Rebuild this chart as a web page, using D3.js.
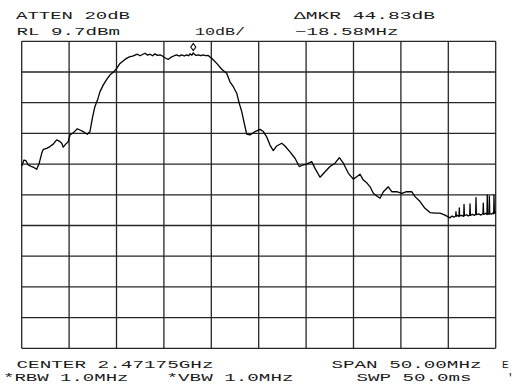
<!DOCTYPE html>
<html>
<head>
<meta charset="utf-8">
<script src="https://cdn.jsdelivr.net/npm/d3@7"></script>
<style>
  html, body { margin: 0; padding: 0; background: #fff; }
  svg { display: block; }
  text { font-family: "Liberation Mono", "DejaVu Sans Mono", monospace; font-size: 11px; fill: #1a1a1a; }
</style>
</head>
<body>
<svg id="chart" width="515" height="389"></svg>
<script>
// ---- Data ----
// Frequency offset from center (MHz), span 50 MHz
const freqOffset = [
  -25.00, -24.76, -24.55, -24.31, -23.95, -23.71, -23.42, -23.15, -22.89, -22.72,
  -22.37, -22.02, -21.67, -21.31, -21.04, -20.78, -20.62, -20.36, -20.09, -19.91,
  -19.56, -19.33, -19.14, -18.86, -18.51, -18.09, -17.80, -17.52, -17.28, -16.98,
  -16.74, -16.39, -16.03, -15.68, -15.34, -14.98, -14.63,
  -14.10, -13.85, -13.57, -13.30, -13.05, -12.80, -12.52, -12.25, -11.99, -11.72,
  -11.46, -11.20, -10.94, -10.68, -10.41, -10.15, -9.99, -9.75, -9.54, -9.35,
  -9.18, -8.90, -8.65, -8.40, -8.12, -7.85, -7.60, -7.40, -7.25, -7.05,
  -6.90, -6.65, -6.37, -6.10, -5.84, -5.60, -5.32, -5.15, -4.96,
  -4.43, -3.90, -3.38, -3.03, -2.68, -2.32, -2.05, -1.79, -1.52, -1.27,
  -0.92, -0.57, -0.39, 0.14, 0.49, 0.84, 1.19, 1.54, 1.90, 2.43,
  2.77, 3.30, 3.83, 4.28, 4.64, 5.06, 5.59, 5.94, 6.47, 7.00,
  7.52, 8.05, 8.51, 8.93, 9.46, 9.98, 10.34, 10.69, 11.04, 11.40,
  11.75, 12.09, 12.45, 12.80, 13.15, 13.67, 14.03, 14.56, 15.09, 15.61,
  16.14, 16.49, 17.02, 17.54, 18.07, 18.60, 19.12, 19.65, 20.18,
  20.40, 20.60, 20.78, 20.81, 20.85, 21.00, 21.13, 21.16, 21.20, 21.40,
  21.63, 21.66, 21.70, 21.95, 22.10, 22.26, 22.29, 22.33, 22.55, 22.75,
  22.89, 22.92, 22.96, 23.20, 23.45, 23.66, 23.69, 23.73, 23.95, 24.08,
  24.11, 24.15, 24.30, 24.33, 24.37, 24.55, 24.70, 24.79, 24.82, 24.86, 25.00
];
// Level (dBm)
const levelDbm = [
  -30.9, -29.0, -29.2, -30.6, -31.1, -31.4, -32.0, -30.0, -26.8, -25.5,
  -25.2, -24.6, -23.8, -22.4, -22.8, -23.5, -24.8, -23.8, -23.0, -20.8,
  -20.1, -19.4, -18.8, -19.2, -19.7, -20.6, -19.7, -14.9, -11.6, -9.2,
  -6.7, -4.5, -2.7, -1.2, -0.4, 0.9, 2.5,
  3.8, 4.3, 4.7, 4.9, 5.2, 5.5, 5.0, 5.4, 5.8, 5.2,
  5.5, 5.0, 5.6, 5.1, 5.3, 4.9, 4.5, 4.1, 3.8, 4.3,
  4.6, 5.0, 5.3, 4.9, 5.3, 4.9, 5.3, 5.0, 5.6, 5.2,
  5.9, 5.1, 5.3, 5.0, 5.3, 5.0, 5.1, 4.6, 4.2,
  2.5, 0.6, -0.7, -3.5, -5.1, -7.2, -10.5, -13.2, -17.0, -20.5,
  -20.8, -20.1, -19.7, -19.0, -19.7, -21.4, -24.1, -25.9, -24.4, -23.5,
  -24.4, -26.3, -28.4, -31.1, -30.6, -30.3, -29.5, -31.7, -34.6, -32.8,
  -31.1, -30.0, -28.2, -30.0, -33.3, -35.2, -34.4, -33.6, -35.5, -36.4,
  -37.7, -39.8, -40.7, -41.4, -39.3, -37.7, -39.3, -39.3, -39.8, -39.3,
  -39.3, -40.9, -42.5, -44.7, -46.1, -46.3, -46.3, -46.9, -47.8,
  -47.2, -47.6, -47.2, -45.8, -47.3, -47.0, -47.4, -44.6, -47.2, -47.0,
  -47.3, -43.4, -47.1, -46.8, -47.2, -46.9, -43.3, -47.0, -46.7, -47.0,
  -46.6, -41.2, -46.8, -46.5, -46.9, -46.4, -43.0, -46.7, -46.3, -46.7,
  -40.4, -46.5, -46.6, -40.7, -46.4, -46.6, -46.2, -46.5, -40.4, -46.3, -45.8
];
// Grid ticks
const freqGrid = [-25, -20, -15, -10, -5, 0, 5, 10, 15, 20, 25];
const levelGrid = [9.7, -0.3, -10.3, -20.3, -30.3, -40.3, -50.3, -60.3, -70.3, -80.3, -90.3];
// Marker
const markerFreq = -6.90;
const markerLevel = 5.9;
// Annotation texts
const topLeftLines = ["ATTEN 20dB", "RL 9.7dBm"];
const scaleLabel = "10dB/";
const markerLines = ["\u0394MKR 44.83dB", "\u221218.58MHz"];
const bottomLeftLines = ["CENTER 2.47175GHz", "*RBW 1.0MHz"];
const vbwLabel = "*VBW 1.0MHz";
const bottomRightLines = ["SPAN 50.00MHz", "SWP 50.0ms"];

// ---- Drawing ----
const svg = d3.select("#chart");
const x = d3.scaleLinear().domain([-25, 25]).range([21.7, 495.7]);
const y = d3.scaleLinear().domain([-90.3, 9.7]).range([348.3, 41.3]);

const grid = svg.append("g");
grid.selectAll("line.v").data(freqGrid).join("line")
  .attr("x1", d => x(d)).attr("x2", d => x(d))
  .attr("y1", y(9.7)).attr("y2", y(-90.3))
  .attr("stroke", "#262626").attr("stroke-width", 1.3);
grid.selectAll("line.h").data(levelGrid).join("line")
  .attr("x1", x(-25)).attr("x2", x(25))
  .attr("y1", d => y(d)).attr("y2", d => y(d))
  .attr("stroke", "#262626").attr("stroke-width", 1.3);

const pts = freqOffset.map((f, i) => [f, levelDbm[i]]);
const line = d3.line().x(d => x(d[0])).y(d => y(d[1]));
svg.append("path").datum(pts)
  .attr("d", line)
  .attr("fill", "none")
  .attr("stroke", "#000")
  .attr("stroke-width", 1.3)
  .attr("stroke-linejoin", "round");

// marker diamond
const mx = x(markerFreq), my = y(markerLevel) - 6;
svg.append("path")
  .attr("d", `M${mx},${my-3.5}L${mx+2.5},${my}L${mx},${my+3.5}L${mx-2.5},${my}Z`)
  .attr("fill", "none").attr("stroke", "#000").attr("stroke-width", 1.1);

// texts
function txt(s, x0, x1, yb) {
  svg.append("text").attr("x", x0).attr("y", yb)
    .attr("textLength", x1 - x0).attr("lengthAdjust", "spacingAndGlyphs")
    .text(s);
}
txt(topLeftLines[0], 16, 130, 18.5);
txt(topLeftLines[1], 16.5, 120, 35);
txt(scaleLabel, 195, 245, 35);
txt(markerLines[0], 294, 435, 18.5);
txt(markerLines[1], 295, 398.5, 35);
txt(bottomLeftLines[0], 16.5, 213.5, 368);
txt(bottomLeftLines[1], 3, 128.5, 380.5);
txt(vbwLabel, 166.5, 293.5, 380.5);
txt(bottomRightLines[0], 331.5, 481.5, 368);
txt(bottomRightLines[1], 356.5, 471.5, 380.5);
svg.append("text").attr("x", 502).attr("y", 368).text("E");
svg.append("text").attr("x", 507).attr("y", 380.5).text("'");
</script>
</body>
</html>
